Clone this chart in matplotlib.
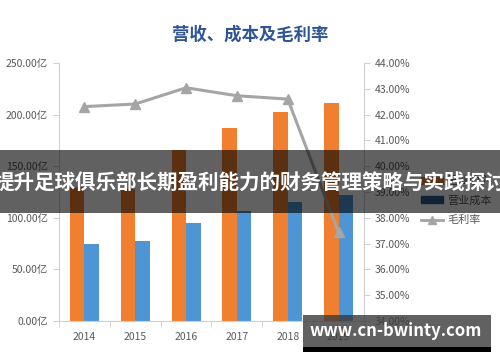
import matplotlib
matplotlib.use("Agg")
import matplotlib.pyplot as plt
import numpy as np
from matplotlib.patches import Rectangle, Patch
from matplotlib.lines import Line2D

plt.rcParams['font.family'] = ['Noto Sans CJK SC', 'DejaVu Sans']

years = ['2014', '2015', '2016', '2017', '2018', '2019']
revenue = [130, 128, 166, 187, 202.5, 211]      # 营业收入 (亿)
cost = [74.6, 77.8, 94.7, 106.6, 115, 122]      # 营业成本 (亿)
margin = [42.31, 42.41, 43.04, 42.73, 42.6, 37.44]  # 毛利率 (%)
left_ticks = [0, 50, 100, 150, 200, 250]
right_ticks = [34, 35, 36, 37, 38, 39, 40, 41, 42, 43, 44]

title = '营收、成本及毛利率'
banner = '提升足球俱乐部长期盈利能力的财务管理策略与实践探讨'
watermark = 'www.cn-bwinty.com'

orange = '#F0802F'
blue = '#4E95D6'
dark_blue = '#2B5A88'
gray_line = '#A5A5A5'
tick_color = '#595959'
spine_color = '#D0D0D0'

fig = plt.figure(figsize=(5, 3.62), dpi=100)
ax = fig.add_axes([0.118, 0.1133, 0.610, 0.7127])
x = np.arange(len(years))
w = 0.285
ax.bar(x - w / 2, revenue, width=w, color=orange, zorder=2)
ax.bar(x + w / 2, cost, width=w, color=blue, zorder=2)
ax.set_xlim(-0.5, len(years) - 0.5)
ax.set_ylim(0, 250)
ax.set_yticks(left_ticks)
ax.set_yticklabels([f'{v:.2f}亿' for v in left_ticks])
ax.set_xticks(x)
ax.set_xticklabels(years)
ax.set_xticks(np.arange(-0.5, len(years), 1), minor=True)
ax.tick_params(axis='x', which='major', length=0, pad=8, labelsize=7.5, colors=tick_color)
ax.tick_params(axis='x', which='minor', length=4, color=spine_color)
ax.tick_params(axis='y', length=4, color=spine_color, labelsize=7.5, labelcolor=tick_color, pad=4)
for s in ['top', 'right']:
    ax.spines[s].set_visible(False)
for s in ['left', 'bottom']:
    ax.spines[s].set_color(spine_color)

ax2 = ax.twinx()
ax2.plot(x, margin, color=gray_line, lw=2.2, marker='^', markersize=7, zorder=3)
ax2.set_ylim(34, 44)
ax2.set_yticks(right_ticks)
ax2.set_yticklabels([f'{v:.2f}%' for v in right_ticks])
ax2.tick_params(axis='y', length=4, color=spine_color, labelsize=7.5, labelcolor=tick_color, pad=4)
for s in ['top', 'left', 'bottom']:
    ax2.spines[s].set_visible(False)
ax2.spines['right'].set_color(spine_color)

fig.text(0.5, 1 - 35 / 362, title, ha='center', va='center', fontsize=12.5,
         fontweight='bold', color='#2F5597')

handles = [Patch(color=orange, label='营业收入'),
           Patch(color=dark_blue, label='营业成本'),
           Line2D([0], [0], color=gray_line, lw=2, marker='^', markersize=6, label='毛利率')]
fig.legend(handles=handles, loc='upper left', bbox_to_anchor=(0.822, 1 - 166 / 362),
           frameon=False, fontsize=8, labelcolor=tick_color, handlelength=2.0,
           handleheight=0.6, labelspacing=0.85, handletextpad=0.4)

# overlay banner
fig.patches.append(Rectangle((0, 1 - 213 / 362), 1, 63 / 362, transform=fig.transFigure,
                             facecolor='black', alpha=0.62, zorder=10))
fig.text(0.5, 1 - 183 / 362, banner, ha='center', va='center', fontsize=14.8,
         fontweight='bold', color='white', zorder=11)

# watermark box
fig.patches.append(Rectangle((303 / 500, 1 - 347 / 362), 188 / 500, 32 / 362,
                             transform=fig.transFigure, facecolor='#3A3A3A', alpha=0.8, zorder=10))
fig.patches.append(Rectangle((303 / 500, 1 - 352 / 362), 188 / 500, 5 / 362,
                             transform=fig.transFigure, facecolor='black', zorder=10))
fig.text(396 / 500, 1 - 331 / 362, watermark, ha='center', va='center', fontsize=12,
         fontweight='bold', color='white', zorder=11)

fig.savefig('out.png', dpi=100)
